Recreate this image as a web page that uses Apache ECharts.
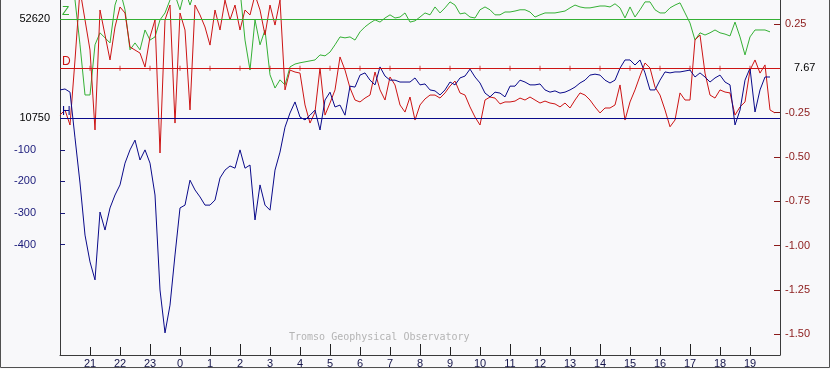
<!DOCTYPE html>
<html>
<head>
<meta charset="utf-8">
<script src="https://cdn.jsdelivr.net/npm/echarts@6/dist/echarts.min.js"></script>
<style>
html,body{margin:0;padding:0;background:#f8f8fa;}
#chart{width:830px;height:369px;}
</style>
</head>
<body>
<div id="chart"></div>
<script>
// Time axis: hours relative to midnight, samples every 10 minutes from 20:00 (-4 h)
const START_HOUR = -4;
const STEP_HOURS = 1 / 6;

const hourTicks = [-3,-2,-1,0,1,2,3,4,5,6,7,8,9,10,11,12,13,14,15,16,17,18,19];
const majorHourTicks = [-1,2,5,8,11,14,17];

// Baselines
const baselineZ = '52620';
const baselineH = '10750';
const baselineD = '7.67';

// H component, deviation from baseline (nT)
const hValues = [90,93,83,-62,-205,-370,-455,-512,-297,-354,-284,-243,-211,-142,-100,-69,-132,-100,-142,-243,
-544,-680,-592,-433,-284,-275,-196,-227,-249,-275,-275,-259,-189,-164,-151,-158,-100,-158,-148,-322,
-211,-275,-291,-164,-107,-28,17,52,4,-5,10,26,-37,58,83,36,42,10,102,99,
137,144,121,106,163,134,121,121,115,115,115,128,106,109,90,87,74,90,115,106,
128,134,156,131,112,80,68,83,80,68,102,102,121,115,106,106,109,90,83,87,
80,83,90,99,112,121,137,140,137,121,112,121,159,185,185,169,185,144,90,90,
121,147,144,147,147,150,153,131,144,131,115,128,137,115,106,-21,26,121,159,20,
90,131,131];

// Z component, deviation from baseline (nT)
const zValues = [155,155,124,60,-82,-241,-241,-82,-44,-60,-76,44,92,29,-98,-76,-98,-35,-67,-57,
-3,19,60,76,29,92,44,92,124,139,155,155,155,139,155,124,92,-67,-162,-3,
-82,-35,-177,-219,-193,-209,-152,-143,-139,-136,-133,-130,-114,-117,-105,-82,-57,-60,-57,-67,
-41,-25,-13,-3,-10,3,13,3,6,19,-10,-6,6,19,13,38,19,35,54,44,
16,19,6,3,29,38,29,13,13,22,22,25,29,29,22,6,13,19,19,19,
22,25,35,44,38,35,35,38,41,41,38,48,35,3,38,6,29,54,54,29,
19,19,35,44,51,19,-13,-67,-44,-51,-44,-35,-44,-48,-54,-10,-57,-114,-57,-35,
-35,-35,-41];

// D component, deviation from baseline (degrees)
const dValues = [-0.264,-0.235,-0.320,0.047,0.442,0.273,0.103,-0.348,0.329,0.188,0.047,0.233,0.346,0.312,0.120,0.103,0.086,0.007,0.177,0.273,
-0.478,0.273,0.357,-0.309,0.312,0.216,-0.235,0.357,0.301,0.233,0.131,0.329,0.216,0.385,0.273,0.357,0.216,0.329,0.301,0.414,
0.329,0.188,0.357,0.244,0.385,-0.122,-0.010,-0.021,-0.027,-0.207,-0.309,-0.247,0.002,-0.264,-0.196,-0.122,0.064,-0.010,-0.111,-0.179,
-0.190,-0.168,-0.151,-0.021,-0.122,-0.179,-0.049,-0.094,-0.207,-0.247,-0.162,-0.292,-0.207,-0.173,-0.151,-0.151,-0.168,-0.139,-0.100,-0.072,
-0.139,-0.151,-0.218,-0.275,-0.320,-0.179,-0.162,-0.168,-0.201,-0.190,-0.190,-0.185,-0.168,-0.179,-0.162,-0.179,-0.196,-0.185,-0.196,-0.201,
-0.218,-0.196,-0.224,-0.179,-0.139,-0.151,-0.179,-0.218,-0.252,-0.224,-0.224,-0.207,-0.094,-0.292,-0.190,-0.122,-0.043,0.030,0.002,-0.106,
-0.151,-0.235,-0.330,-0.292,-0.139,-0.179,-0.179,0.160,0.188,-0.027,-0.151,-0.168,-0.122,-0.134,-0.139,-0.264,-0.218,-0.190,-0.010,0.047,
-0.027,0.019,-0.235,-0.252];

// Axis tick values
const hTickValues = [-100,-200,-300,-400];
const dTickValues = [0.25,-0.25,-0.5,-0.75,-1.0,-1.25,-1.5];

const COL_H = '#0a0a8a';
const COL_D = '#cc1414';
const COL_Z = '#35b035';
const FONT = '"Liberation Sans", Arial, sans-serif';

function pairs(vals) {
  return vals.map((v, i) => [START_HOUR + i * STEP_HOURS, v]);
}

const chart = echarts.init(document.getElementById('chart'), null, {renderer: 'canvas'});

const baseMark = (color, text) => ({
  silent: true,
  symbol: ['none', 'none'],
  lineStyle: {color: color, width: 1, type: 'solid'},
  label: {show: true, position: 'insideStartTop', formatter: text, color: color, fontSize: 12, fontFamily: FONT, distance: [2, 1]},
  emphasis: {disabled: true},
  data: [{yAxis: 0}]
});

chart.setOption({
  backgroundColor: '#f8f8fa',
  animation: false,
  grid: {left: 60, right: 50, top: 0, bottom: 14, containLabel: false},
  xAxis: [
    {
      type: 'value', min: -4, max: 20, position: 'bottom',
      axisLine: {show: true, onZero: false, lineStyle: {color: '#3a3a3a', width: 1}},
      splitLine: {show: false},
      axisTick: {show: true, inside: true, length: 8, customValues: hourTicks, lineStyle: {color: '#222'}},
      axisLabel: {
        customValues: hourTicks, margin: 3, fontSize: 11, fontFamily: FONT, color: '#14144a',
        formatter: v => String(((v % 24) + 24) % 24)
      }
    },
    {
      type: 'value', min: -4, max: 20, position: 'bottom',
      axisLine: {show: false, onZero: false},
      splitLine: {show: false},
      axisTick: {show: true, inside: true, length: 11, customValues: majorHourTicks, lineStyle: {color: '#222'}},
      axisLabel: {show: false}
    }
  ],
  yAxis: [
    {
      type: 'value', min: -750, max: 375, position: 'left',
      axisLine: {show: true, onZero: false, lineStyle: {color: '#3a3a3a'}},
      splitLine: {show: false},
      axisTick: {show: true, inside: true, length: 5, customValues: hTickValues, lineStyle: {color: '#1a1a7a'}},
      axisLabel: {
        customValues: [0].concat(hTickValues), margin: 10, fontSize: 11, fontFamily: FONT,
        formatter: v => v === 0 ? '{k|' + baselineH + '}' : '{b|' + v + '}',
        rich: {
          k: {color: '#000', fontSize: 11, fontFamily: FONT},
          b: {color: '#1a1a7a', fontSize: 11, fontFamily: FONT, padding: [0, 14, 0, 0]}
        }
      }
    },
    {
      type: 'value', min: -1.6179, max: 0.3854, position: 'right',
      axisLine: {show: true, onZero: false, lineStyle: {color: '#3a3a3a'}},
      splitLine: {show: false},
      axisTick: {show: true, inside: true, length: 6, customValues: dTickValues, lineStyle: {color: '#8b1a1a'}},
      axisLabel: {
        customValues: [0.25, 0].concat(dTickValues.slice(1)), margin: 5, fontSize: 11, fontFamily: FONT,
        formatter: v => Math.abs(v) < 1e-9 ? '{k|' + baselineD + '}' : '{r|' + v.toFixed(2) + '}',
        rich: {
          k: {color: '#000', fontSize: 11, fontFamily: FONT, padding: [0, 0, 0, 9]},
          r: {color: '#8b1a1a', fontSize: 11, fontFamily: FONT}
        }
      }
    },
    {
      type: 'value', min: -1065, max: 60, position: 'left',
      axisLine: {show: false},
      splitLine: {show: false},
      axisTick: {show: false},
      axisLabel: {customValues: [0], margin: 10, fontSize: 11, fontFamily: FONT, color: '#000', formatter: () => baselineZ}
    }
  ],
  series: [
    {
      name: 'Z', type: 'line', xAxisIndex: 0, yAxisIndex: 2, data: pairs(zValues),
      showSymbol: false, symbol: 'none', lineStyle: {color: COL_Z, width: 1}, itemStyle: {color: COL_Z},
      markLine: baseMark(COL_Z, 'Z'), silent: true
    },
    {
      name: 'D', type: 'line', xAxisIndex: 0, yAxisIndex: 1, data: pairs(dValues),
      showSymbol: false, symbol: 'none', lineStyle: {color: COL_D, width: 1}, itemStyle: {color: COL_D},
      markLine: baseMark(COL_D, 'D'), silent: true
    },
    {
      name: 'Dticks', type: 'scatter', xAxisIndex: 0, yAxisIndex: 1,
      data: hourTicks.map(h => [h, 0]),
      symbol: 'rect', symbolSize: [1, 5], itemStyle: {color: COL_D}, silent: true
    },
    {
      name: 'H', type: 'line', xAxisIndex: 0, yAxisIndex: 0, data: pairs(hValues),
      showSymbol: false, symbol: 'none', lineStyle: {color: COL_H, width: 1}, itemStyle: {color: COL_H},
      markLine: baseMark(COL_H, 'H'), silent: true
    }
  ],
  graphic: [
    {
      type: 'text', left: 289, top: 332, silent: true,
      style: {text: 'Tromso Geophysical Observatory', fill: '#b4b4b4', font: '10px "DejaVu Sans Mono", monospace'}
    },
    {
      type: 'rect', silent: true,
      shape: {x: 0.5, y: -2, width: 829, height: 369.5},
      style: {fill: 'none', stroke: '#505050', lineWidth: 1}
    }
  ]
});
</script>
</body>
</html>
